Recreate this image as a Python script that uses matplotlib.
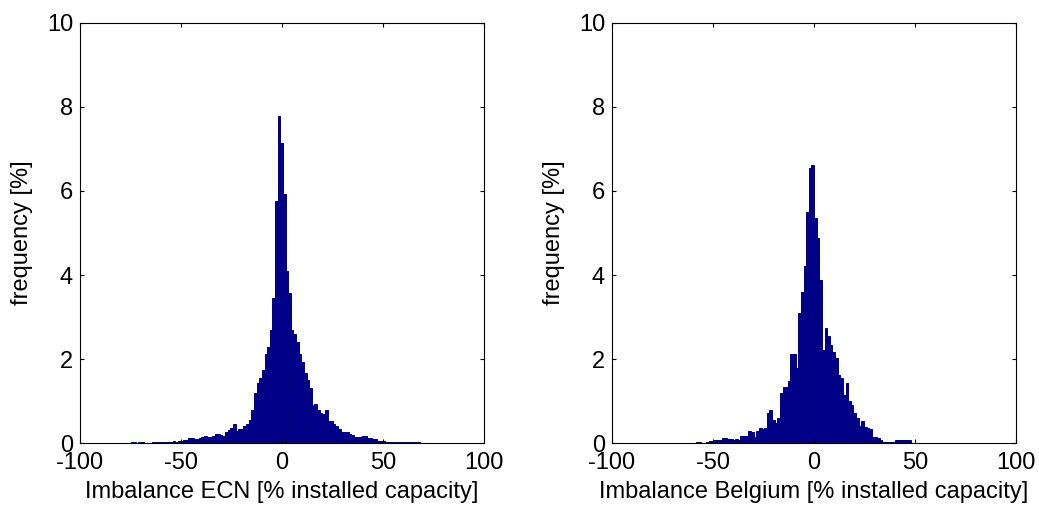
import matplotlib
matplotlib.use('Agg')
import matplotlib.pyplot as plt
import numpy as np

# Histogram of ECN imbalance (% installed capacity), bins of 1.3 starting at -75
ecn_start = -75.0
ecn_width = 1.3
ecn_freq = [
    0.04, 0.04, 0.00, 0.04, 0.03, 0.00, 0.00, 0.00, 0.03, 0.04,
    0.03, 0.04, 0.04, 0.03, 0.04, 0.04, 0.05, 0.04, 0.05, 0.06,
    0.08, 0.07, 0.13, 0.12, 0.10, 0.11, 0.13, 0.14, 0.17, 0.14,
    0.15, 0.18, 0.22, 0.21, 0.20, 0.18, 0.26, 0.32, 0.37, 0.45,
    0.30, 0.33, 0.35, 0.40, 0.46, 0.55, 0.80, 1.19, 1.43, 1.55,
    1.74, 2.12, 2.30, 2.69, 3.45, 5.76, 7.78, 7.15, 5.92, 4.10,
    3.57, 2.69, 2.60, 2.42, 2.12, 1.94, 1.68, 1.50, 1.31, 0.91,
    0.93, 0.78, 0.71, 0.69, 0.78, 0.54, 0.52, 0.45, 0.40, 0.35,
    0.28, 0.26, 0.27, 0.21, 0.20, 0.16, 0.16, 0.15, 0.18, 0.17,
    0.12, 0.12, 0.10, 0.10, 0.06, 0.06, 0.05, 0.04, 0.04, 0.04,
    0.03, 0.04, 0.04, 0.03, 0.04, 0.04, 0.03, 0.04, 0.03, 0.02,
]

# Histogram of Belgian imbalance, bins of 1.3 starting at -58.5
bel_start = -58.5
bel_width = 1.3
bel_freq = [
    0.04, 0.04, 0.00, 0.00, 0.03, 0.05, 0.05, 0.08, 0.07, 0.08,
    0.13, 0.12, 0.11, 0.10, 0.09, 0.10, 0.08, 0.17, 0.17, 0.18,
    0.29, 0.28, 0.16, 0.30, 0.36, 0.35, 0.37, 0.71, 0.79, 0.55,
    0.48, 0.60, 1.20, 1.35, 1.35, 1.47, 2.12, 2.12, 1.78, 3.09,
    3.60, 4.22, 5.50, 6.55, 6.62, 5.35, 4.87, 3.88, 2.22, 2.73,
    2.55, 2.34, 2.16, 2.02, 1.62, 1.55, 1.15, 1.43, 1.00, 0.91,
    0.71, 0.59, 0.40, 0.53, 0.38, 0.36, 0.34, 0.16, 0.14, 0.12,
    0.08, 0.04, 0.04, 0.03, 0.04, 0.04, 0.08, 0.07, 0.08, 0.07,
    0.08, 0.08,
]

x_ticks = [-100, -50, 0, 50, 100]
y_ticks = [0, 2, 4, 6, 8, 10]

panels = [
    (ecn_start, ecn_width, ecn_freq, 'Imbalance ECN [% installed capacity]'),
    (bel_start, bel_width, bel_freq, 'Imbalance Belgium [% installed capacity]'),
]

plt.rcParams['font.family'] = ['Liberation Sans', 'DejaVu Sans']
plt.rcParams['axes.unicode_minus'] = False  # plain hyphen like MATLAB

fig = plt.figure(figsize=(10.39, 5.11), dpi=100)
lefts = [0.077, 0.589]

for left, (start, width, freq, label) in zip(lefts, panels):
    ax = fig.add_axes([left, 0.1325, 0.389, 0.823])
    edges = start + width * np.arange(len(freq))
    ax.bar(edges, freq, width=width, align='edge', color='#00008b',
           edgecolor='#000080', linewidth=0.7)
    ax.set_xlim(-100, 100)
    ax.set_ylim(0, 10)
    ax.set_xticks(x_ticks)
    ax.set_yticks(y_ticks)
    ax.tick_params(direction='in', top=True, right=True, length=3,
                   width=0.8, labelsize=17)
    ax.tick_params(axis='x', pad=6)
    ax.tick_params(axis='y', pad=5)
    for s in ax.spines.values():
        s.set_linewidth(0.8)
    ax.set_xlabel(label, fontsize=17, labelpad=5)
    ax.set_ylabel('frequency [%]', fontsize=17, labelpad=10)

fig.savefig('out.png', dpi=100)
